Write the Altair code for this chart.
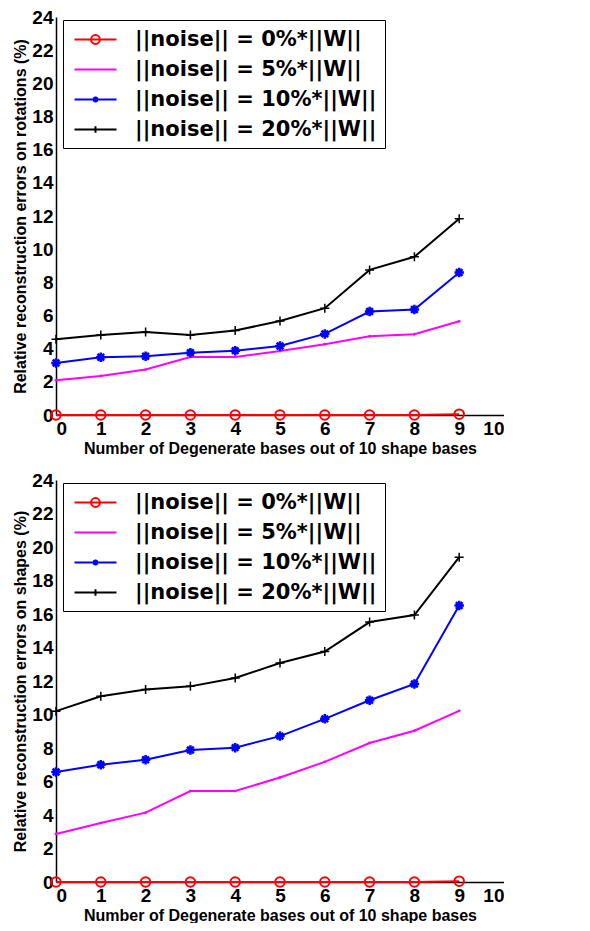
import altair as alt
import pandas as pd

x_vals = [0, 1, 2, 3, 4, 5, 6, 7, 8, 9]
series_names = ["||noise|| = 0%*||W||", "||noise|| = 5%*||W||",
                "||noise|| = 10%*||W||", "||noise|| = 20%*||W||"]
series_colors = ["#ff0000", "#ff00ff", "#0000ff", "#000000"]

# Top panel: rotations
rot_0 = [0, 0, 0, 0, 0, 0, 0, 0, 0, 0.05]
rot_5 = [2.09, 2.35, 2.74, 3.50, 3.50, 3.86, 4.27, 4.75, 4.87, 5.65]
rot_10 = [3.14, 3.48, 3.54, 3.76, 3.88, 4.16, 4.89, 6.24, 6.36, 8.59]
rot_20 = [4.57, 4.83, 5.01, 4.83, 5.09, 5.67, 6.44, 8.75, 9.54, 11.83]

# Bottom panel: shapes
shp_0 = [0, 0, 0, 0, 0, 0, 0, 0, 0, 0.05]
shp_5 = [2.87, 3.52, 4.14, 5.43, 5.43, 6.24, 7.17, 8.30, 9.03, 10.22]
shp_10 = [6.57, 7.00, 7.30, 7.88, 8.02, 8.71, 9.74, 10.85, 11.82, 16.51]
shp_20 = [10.20, 11.09, 11.49, 11.68, 12.18, 13.07, 13.76, 15.52, 15.94, 19.39]

x_ticks = list(range(0, 11))
y_ticks = list(range(0, 25, 2))
x_title = "Number of Degenerate bases out of 10 shape bases"
y_title_top = "Relative reconstruction errors on rotations (%)"
y_title_bottom = "Relative reconstruction errors on shapes (%)"

ASTER = "M-1,0H1M0,-1V1M-0.7,-0.7L0.7,0.7M-0.7,0.7L0.7,-0.7"
PLUS = "M-1,0H1M0,-1V1"
legend_paths = [
    "M-2,0H2M0.42,0A0.42,0.42 0 1,1 -0.42,0A0.42,0.42 0 1,1 0.42,0",
    "M-2,0H2",
    "M-2,0H2M-0.28,0H0.28M0,-0.28V0.28M-0.2,-0.2L0.2,0.2M-0.2,0.2L0.2,-0.2",
    "M-2,0H2M0,-0.32V0.32",
]


def make_df(vals):
    rows = []
    for name, ys in zip(series_names, vals):
        for xv, yv in zip(x_vals, ys):
            rows.append({"x": xv, "y": yv, "series": name})
    return pd.DataFrame(rows)


def panel(vals, ytitle, h):
    df = make_df(vals)
    base = alt.Chart(df)
    xenc = alt.X("x:Q", scale=alt.Scale(domain=[0, 10], nice=False),
                 axis=alt.Axis(values=x_ticks, title=x_title, format="d"))
    yenc = alt.Y("y:Q", scale=alt.Scale(domain=[0, 24], nice=False),
                 axis=alt.Axis(values=y_ticks, title=ytitle, format="d"))
    color_scale = alt.Scale(domain=series_names, range=series_colors)

    leg = alt.Legend(
        title=None, orient="none", legendX=7, legendY=3,
        strokeColor="black", fillColor="white", padding=8,
        labelFont="DejaVu Sans", labelFontWeight="bold", labelFontSize=21,
        labelColor="black", labelOffset=28, symbolOffset=13, symbolSize=441,
        symbolStrokeWidth=2, rowPadding=8, labelLimit=400,
    )

    lines = base.mark_line(strokeWidth=2).encode(
        x=xenc, y=yenc,
        color=alt.Color("series:N", scale=color_scale, legend=leg),
        order=alt.Order("x:Q"),
    )
    m_red = base.transform_filter(alt.datum.series == series_names[0]).mark_point(
        shape="circle", filled=False, size=90, strokeWidth=2, color="#ff0000", opacity=1
    ).encode(x=xenc, y=yenc)
    m_mag = base.transform_filter(alt.datum.series == series_names[1]).mark_point(
        shape="circle", filled=True, size=8, color="#ff00ff", opacity=1
    ).encode(x=xenc, y=yenc)
    m_blue = base.transform_filter(alt.datum.series == series_names[2]).mark_point(
        shape=ASTER, filled=False, size=90, strokeWidth=2.5, color="#0000ff", opacity=1
    ).encode(x=xenc, y=yenc)
    m_black = base.transform_filter(alt.datum.series == series_names[3]).mark_point(
        shape=PLUS, filled=False, size=81, strokeWidth=1.5, color="#000000", opacity=1
    ).encode(x=xenc, y=yenc)

    legend_layer = base.transform_filter("datum.x < 0").mark_point(
        filled=False, strokeWidth=2, opacity=1
    ).encode(
        x=xenc, y=yenc,
        color=alt.Color("series:N", scale=color_scale, legend=leg),
        shape=alt.Shape("series:N", scale=alt.Scale(domain=series_names, range=legend_paths), legend=leg),
    )
    return alt.layer(lines, m_mag, m_blue, m_black, m_red, legend_layer).properties(
        width=448, height=h
    )


top = panel([rot_0, rot_5, rot_10, rot_20], y_title_top, 398)
bottom = panel([shp_0, shp_5, shp_10, shp_20], y_title_bottom, 402)

chart = alt.vconcat(top, bottom, spacing=15).resolve_legend(
    color="independent", shape="independent"
).properties(padding={"top": 0, "left": 4, "right": 0, "bottom": 0}).configure_view(
    stroke=None
).configure_axis(
    grid=False, domainColor="black", domainWidth=1.5, ticks=False,
    labelFont="Liberation Sans", labelFontWeight="bold", labelFontSize=19,
    labelColor="black", titleFont="Liberation Sans", titleFontWeight="bold",
    titleFontSize=16, titleColor="black",
).configure_axisX(labelPadding=4, titlePadding=2).configure_axisY(
    labelPadding=3, titlePadding=3
)

chart.save("out.html", embed_options={"renderer": "svg", "actions": False})
